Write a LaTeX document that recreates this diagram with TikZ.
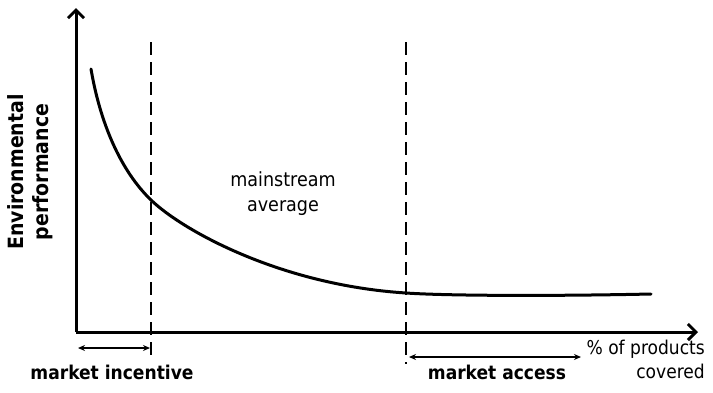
\documentclass[tikz,border=0pt]{standalone}
\usepackage{fontspec}
\setmainfont{DejaVu Sans Condensed}
\usetikzlibrary{arrows.meta,positioning}

\tikzset{
  axis/.style={line width=3pt, -{Straight Barb[length=8pt,width=16pt,line width=3pt]}},
  divider/.style={line width=2pt, dash pattern=on 13pt off 7pt},
  span/.style={line width=1.5pt, {Stealth[length=7pt,width=6pt]}-{Stealth[length=7pt,width=6pt]}},
  lbl/.style={font=\fontsize{19}{22}\selectfont, inner sep=0pt},
}

\begin{document}
\begin{tikzpicture}[x=1pt, y=-1pt]
		\useasboundingbox (0,0) rectangle (713,392);
		% axes
		\coordinate (origin) at (76,332);
		\coordinate (ytop) at (76,8);
		\coordinate (xend) at (698,332);
		\draw[axis] (origin) -- (ytop);
		\draw[axis] (origin) -- (xend);
		% dividers
		\coordinate (inctop) at (151,42);
		\coordinate (incbot) at (151,361);
		\coordinate (acctop) at (406,42);
		\coordinate (accbot) at (406,364);
		\draw[divider] (inctop) -- (incbot);
		\draw[divider] (acctop) -- (accbot);
		% curve
		\coordinate (cstart) at (91,69);
		\coordinate (cinc) at (151,200);
		\coordinate (cacc) at (406,293);
		\coordinate (cend) at (651,294);
		\draw[line width=3pt, line cap=round] (cstart)
			.. controls (100,122) and (120,170) .. (cinc)
			.. controls (182,230) and (280,285) .. (cacc)
			.. controls (450,296) and (560,296) .. (cend);
		% labels
		\node[lbl, font=\fontsize{21}{25}\selectfont\bfseries, rotate=90, align=center] (ylabel) at (30,172) {Environmental\\performance};
		\node[lbl, font=\fontsize{19.5}{23}\selectfont, align=center] (mainstream) at (283,194) {mainstream\\[2pt]average};
		\node[lbl, font=\fontsize{19}{22}\selectfont\bfseries] (incentive) at (112,372) {market incentive};
		\node[lbl, font=\fontsize{19}{22}\selectfont\bfseries] (access) at (497,372) {market access};
		\node[lbl, align=right, anchor=north east] (xlabel) at (705,340) {\% of products\\[2pt]covered};
		% spans
		\coordinate (incL) at (78,348);
		\coordinate (incR) at (150,348);
		\coordinate (accL) at (409,357);
		\coordinate (accR) at (581,357);
		\draw[span] (incL) -- (incR);
		\draw[span] (accL) -- (accR);
	\end{tikzpicture}
\end{document}
